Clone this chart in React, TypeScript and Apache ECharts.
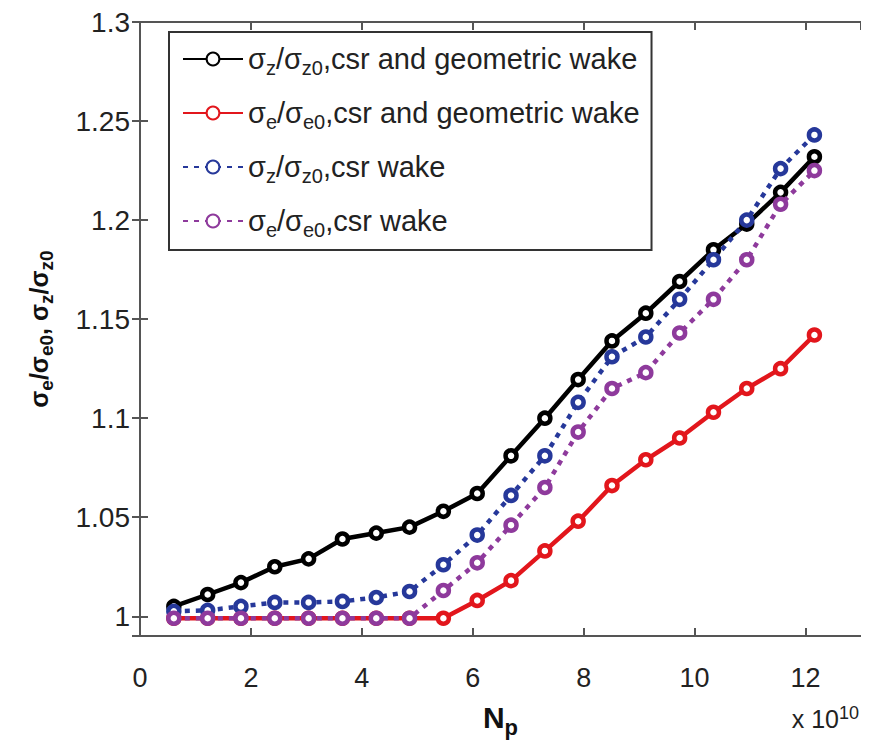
import React, { useEffect, useRef } from "react";
import * as echarts from "echarts";

const npValues = [0.61, 1.22, 1.82, 2.43, 3.04, 3.65, 4.26, 4.86, 5.47, 6.08, 6.69, 7.30, 7.90, 8.51, 9.12, 9.73, 10.34, 10.94, 11.55, 12.16];
const szGeo = [1.005, 1.011, 1.017, 1.025, 1.029, 1.039, 1.042, 1.045, 1.053, 1.062, 1.081, 1.100, 1.1195, 1.139, 1.153, 1.169, 1.185, 1.198, 1.214, 1.232];
const seGeo = [0.999, 0.999, 0.999, 0.999, 0.999, 0.999, 0.999, 0.999, 0.999, 1.008, 1.018, 1.033, 1.048, 1.066, 1.079, 1.090, 1.103, 1.115, 1.125, 1.142];
const szCsr = [1.0025, 1.003, 1.005, 1.007, 1.007, 1.0075, 1.0095, 1.0125, 1.026, 1.041, 1.061, 1.081, 1.108, 1.131, 1.141, 1.160, 1.180, 1.200, 1.226, 1.243];
const seCsr = [0.999, 0.999, 0.999, 0.999, 0.999, 0.999, 0.999, 0.999, 1.013, 1.027, 1.046, 1.065, 1.093, 1.115, 1.123, 1.143, 1.160, 1.180, 1.208, 1.225];
const seriesNames = [
  "σz/σz0,csr and geometric wake",
  "σe/σe0,csr and geometric wake",
  "σz/σz0,csr wake",
  "σe/σe0,csr wake",
];
const legendRich = [
  "{n|σ}{s|z}{n|/σ}{s|z0}{n|,csr and geometric wake}",
  "{n|σ}{s|e}{n|/σ}{s|e0}{n|,csr and geometric wake}",
  "{n|σ}{s|z}{n|/σ}{s|z0}{n|,csr wake}",
  "{n|σ}{s|e}{n|/σ}{s|e0}{n|,csr wake}",
];
const xTicksNote = "{a|x 10}{b|10}";

const FONT = "'Liberation Sans', Arial, sans-serif";

export default function App() {
  const ref = useRef<HTMLDivElement>(null);
  useEffect(() => {
    if (!ref.current) return;
    const chart = echarts.init(ref.current, undefined, { renderer: "svg" });
    const mk = (vals: number[]) => npValues.map((x, i) => [x, vals[i]]);
    const colors = ["#000000", "#e2161c", "#26389a", "#8e3a9c"];
    const dataSets = [szGeo, seGeo, szCsr, seCsr];
    const dashed = [false, false, true, true];
    const axisColor = "#555";
    const option: any = {
      animation: false,
      backgroundColor: "#fff",
      grid: { left: 132, right: 0, top: 12, bottom: 90, containLabel: false },
      legend: {
        left: 161,
        top: 24,
        orient: "vertical",
        itemWidth: 60,
        itemHeight: 16,
        itemGap: 16,
        padding: [8, 12, 10, 13],
        borderColor: "#333",
        borderWidth: 2,
        backgroundColor: "#fff",
        data: seriesNames,
        formatter: (name: string) => legendRich[seriesNames.indexOf(name)],
        textStyle: {
          rich: {
            n: { fontSize: 29, fontFamily: FONT, color: "#222", lineHeight: 31 },
            s: { fontSize: 20, fontFamily: FONT, color: "#222", lineHeight: 20, padding: [18, 0, 0, 0] },
          },
        },
      },
      xAxis: [
        {
          type: "value",
          min: 0,
          max: 13,
          interval: 2,
          name: "{n|N}{s|p}",
          nameLocation: "middle",
          nameGap: 40,
          nameTextStyle: {
            rich: {
              n: { fontSize: 30, fontWeight: "bold", fontFamily: FONT, color: "#111", lineHeight: 32 },
              s: { fontSize: 22, fontWeight: "bold", fontFamily: FONT, color: "#111", lineHeight: 22, padding: [20, 0, 0, 0] },
            },
          },
          axisLine: { show: true, lineStyle: { color: axisColor, width: 2 } },
          axisTick: { show: true, inside: true, length: 8, lineStyle: { color: axisColor, width: 2 } },
          axisLabel: { fontSize: 27, fontFamily: FONT, color: "#222", margin: 28, showMaxLabel: false },
          splitLine: { show: false },
        },
        {
          type: "value",
          position: "top",
          min: 0,
          max: 13,
          interval: 2,
          axisLine: { show: true, lineStyle: { color: axisColor, width: 2 } },
          axisTick: { show: true, inside: true, length: 8, lineStyle: { color: axisColor, width: 2 } },
          axisLabel: { show: false },
          splitLine: { show: false },
        },
      ],
      yAxis: [
        {
          type: "value",
          min: 0.99,
          max: 1.3,
          splitNumber: 6,
          name: "{n|σ}{s|e}{n|/σ}{s|e0}{n|, σ}{s|z}{n|/σ}{s|z0}",
          nameLocation: "middle",
          nameGap: 88,
          nameTextStyle: {
            rich: {
              n: { fontSize: 25, fontWeight: "bold", fontFamily: FONT, color: "#111", lineHeight: 27 },
              s: { fontSize: 19, fontWeight: "bold", fontFamily: FONT, color: "#111", lineHeight: 19, padding: [16, 0, 0, 0] },
            },
          },
          axisLine: { show: true, lineStyle: { color: axisColor, width: 2 } },
          axisTick: { show: true, inside: true, length: 8, lineStyle: { color: axisColor, width: 2 } },
          axisLabel: {
            fontSize: 28,
            fontFamily: FONT,
            color: "#222",
            margin: 10,
            showMinLabel: false,
            formatter: (v: number) => String(Math.round(v * 100) / 100),
          },
          splitLine: { show: false },
        },
        {
          type: "value",
          position: "right",
          min: 0.99,
          max: 1.3,
          splitNumber: 6,
          axisLine: { show: true, lineStyle: { color: axisColor, width: 2 } },
          axisTick: { show: true, inside: true, length: 8, lineStyle: { color: axisColor, width: 2 } },
          axisLabel: { show: false },
          splitLine: { show: false },
        },
      ],
      graphic: [
        {
          type: "text",
          right: 2,
          top: 686,
          style: {
            text: xTicksNote,
            fontSize: 25,
            fontFamily: FONT,
            fill: "#222",
            rich: {
              a: { fontSize: 25, fontFamily: FONT, fill: "#222", lineHeight: 27, padding: [12, 0, 0, 0] },
              b: { fontSize: 18, fontFamily: FONT, fill: "#222", lineHeight: 18 },
            },
          },
        },
      ],
      series: dataSets.map((vals, i) => ({
        type: "line",
        name: seriesNames[i],
        data: mk(vals),
        xAxisIndex: 0,
        yAxisIndex: 0,
        symbol: "circle",
        symbolSize: 11,
        itemStyle: { color: "#ffffff", borderColor: colors[i], borderWidth: 4.5 },
        lineStyle: {
          color: colors[i],
          width: 4.5,
          type: dashed[i] ? [5, 6] : "solid",
        },
        z: 2 + i,
      })),
    };
    chart.setOption(option);
    return () => chart.dispose();
  }, []);
  return <div ref={ref} style={{ width: 853, height: 735 }} />;
}
